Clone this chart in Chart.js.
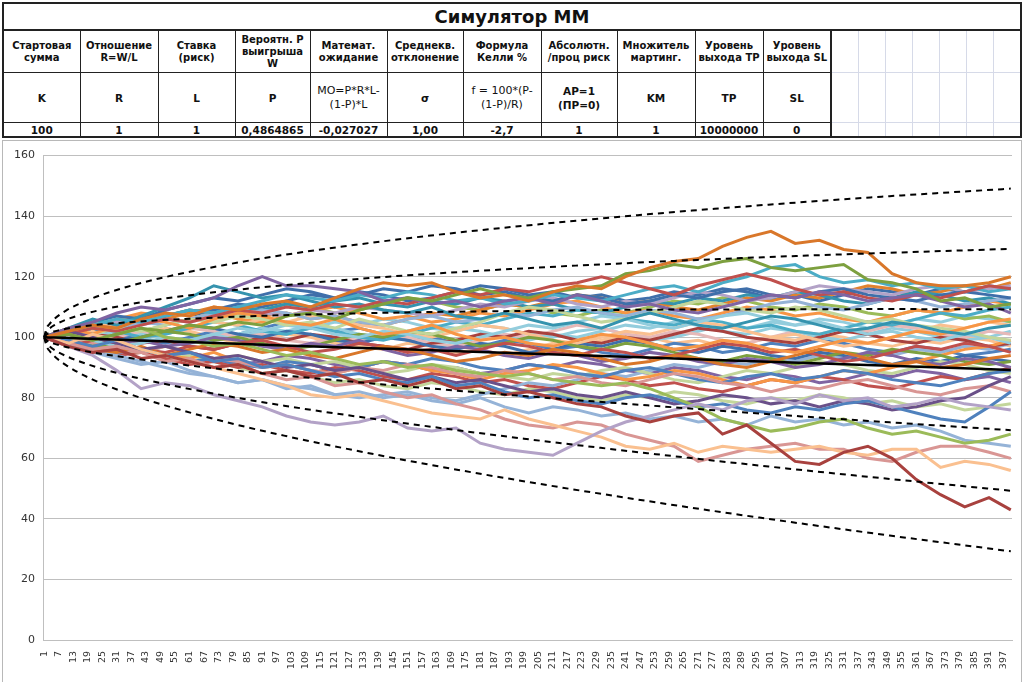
<!DOCTYPE html>
<html>
<head>
<meta charset="utf-8">
<script src="https://cdn.jsdelivr.net/npm/chart.js@4.4.1/dist/chart.umd.min.js"></script>
<style>
  body { margin: 0; width: 1024px; height: 682px; overflow: hidden; background: #fff; font-family: "DejaVu Sans", Verdana, sans-serif; }
  #sheet { position: absolute; left: 2px; top: 2px; }
  table { border-collapse: collapse; table-layout: fixed; border: 2px solid #222; }
  td { border: 1px solid #222; text-align: center; vertical-align: middle; padding: 0; color: #111; overflow: hidden; }
  tr.title td { height: 25px; font-size: 18px; font-weight: bold; border-bottom: 2px solid #222; }
  tr.hdr td { height: 41px; font-size: 10px; font-weight: bold; line-height: 12px; }
  tr.sym td { height: 49px; font-size: 10.5px; font-weight: bold; line-height: 14px; }
  tr.sym td.f { font-weight: normal; font-size: 11px; }
  tr.val td { height: 13px; font-size: 10.5px; font-weight: bold; line-height: 12px; }
  td.e { border: 1px solid #D6DAE8; }
  td.e1 { border-left: 2px solid #222; }
  tr.val td.e { border-bottom: 2px solid #222; }
  #chartBox { position: absolute; left: 2px; top: 140px; width: 1018px; height: 542px; border: 1px solid #B8B8B8; border-bottom: none; }
</style>
</head>
<body>
<div id="sheet">
<table>
  <colgroup>
    <col style="width:77px"><col style="width:78px"><col style="width:77px"><col style="width:75px">
    <col style="width:77px"><col style="width:76px"><col style="width:78px"><col style="width:76px">
    <col style="width:78px"><col style="width:68px"><col style="width:68px">
    <col style="width:27px"><col style="width:27px"><col style="width:27px"><col style="width:27px">
    <col style="width:27px"><col style="width:27px"><col style="width:28px">
  </colgroup>
  <tr class="title"><td colspan="18">Симулятор ММ</td></tr>
  <tr class="hdr">
    <td>Стартовая<br>сумма</td><td>Отношение<br>R=W/L</td><td>Ставка<br>(риск)</td><td>Вероятн. P<br>выигрыша<br>W</td>
    <td>Математ.<br>ожидание</td><td>Среднекв.<br>отклонение</td><td>Формула<br>Келли %</td><td>Абсолютн.<br>/проц риск</td>
    <td>Множитель<br>мартинг.</td><td>Уровень<br>выхода TP</td><td>Уровень<br>выхода SL</td>
    <td class="e e1"></td><td class="e"></td><td class="e"></td><td class="e"></td><td class="e"></td><td class="e"></td><td class="e"></td>
  </tr>
  <tr class="sym">
    <td>K</td><td>R</td><td>L</td><td>P</td><td class="f">MO=P*R*L-<br>(1-P)*L</td><td>σ</td>
    <td class="f">f = 100*(P-<br>(1-P)/R)</td><td>AP=1<br>(ПР=0)</td><td>KM</td><td>TP</td><td>SL</td>
    <td class="e e1"></td><td class="e"></td><td class="e"></td><td class="e"></td><td class="e"></td><td class="e"></td><td class="e"></td>
  </tr>
  <tr class="val">
    <td>100</td><td>1</td><td>1</td><td>0,4864865</td><td>-0,027027</td><td>1,00</td>
    <td>-2,7</td><td>1</td><td>1</td><td>10000000</td><td>0</td>
    <td class="e e1"></td><td class="e"></td><td class="e"></td><td class="e"></td><td class="e"></td><td class="e"></td><td class="e"></td>
  </tr>
</table>
</div>
<div id="chartBox"><canvas id="mm"></canvas></div>
<script>
const sampleX = [1, 11, 21, 31, 41, 51, 61, 71, 81, 91, 101, 111, 121, 131, 141, 151, 161, 171, 181, 191,
  201, 211, 221, 231, 241, 251, 261, 271, 281, 291, 301, 311, 321, 331, 341, 351, 361, 371, 381, 391, 400];

// simulated balance paths
const w01 = [100,102,104,103,106,108,107,110,109,111,112,110,113,116,118,117,118,115,113,114,112,115,117,116,120,123,125,126,130,133,135,131,132,129,128,121,118,117,117,118,120];
const w02 = [100,97,95,96,93,94,92,90,91,88,89,87,88,85,86,84,86,83,84,81,82,80,78,77,74,72,74,75,68,71,65,59,58,62,64,60,53,48,44,47,43];
const w03 = [100,101,99,101,103,102,104,103,105,104,107,108,106,109,111,113,112,114,116,114,113,115,116,117,121,122,124,123,125,126,123,122,123,124,119,118,116,112,113,110,111];
const w04 = [100,103,105,108,110,109,111,113,117,120,117,117,116,115,112,113,111,112,110,112,113,111,114,112,110,111,109,108,110,112,114,113,115,114,112,113,114,112,110,111,108];
const w05 = [100,97,94,89,83,85,84,81,79,77,74,72,71,72,74,70,69,70,65,63,62,61,65,69,72,74,76,78,76,79,80,78,81,79,80,77,78,80,78,77,76];
const w06 = [100,98,101,99,96,94,92,90,88,86,84,81,80,81,79,77,75,74,73,76,73,71,69,67,64,63,65,62,64,63,62,63,64,62,61,63,63,57,59,58,56];
const w07 = [100,98,96,97,95,92,93,90,91,88,86,87,84,85,82,80,81,78,76,73,71,70,72,71,68,66,64,59,61,63,64,65,63,63,60,59,62,64,64,62,60];
const w08 = [100,101,99,101,103,100,99,97,98,96,94,95,93,91,92,90,91,89,88,87,88,86,85,84,85,83,80,77,73,71,69,70,72,73,70,68,69,67,65,66,68];
const w09 = [100,98,95,93,91,92,89,87,85,86,83,84,81,82,80,81,79,78,80,77,75,77,76,74,75,73,74,72,73,71,74,72,73,71,72,70,71,69,66,65,64];
const w10 = [100,99,97,99,96,94,95,92,93,90,91,89,87,88,86,85,87,84,85,82,80,81,79,78,80,81,79,77,78,76,75,77,76,78,79,77,75,73,72,77,82];
const w11 = [100,102,100,98,96,97,95,93,94,92,90,91,89,90,88,86,87,85,86,84,82,83,81,80,82,80,78,79,81,80,78,79,77,79,78,76,77,79,80,84,87];
const w12 = [100,101,103,102,104,106,105,107,109,108,110,109,111,110,112,111,113,115,114,116,115,117,118,120,118,116,114,117,119,121,119,116,114,115,113,112,114,113,115,117,116];
const w13 = [100,102,104,106,105,107,109,108,110,112,114,113,112,114,113,115,114,112,113,111,112,114,113,112,114,116,117,115,118,120,123,124,120,118,119,117,118,116,117,115,116];
const w14 = [100,103,106,104,107,110,113,117,115,113,114,112,110,111,109,108,110,107,106,108,106,104,105,103,106,108,106,104,103,105,107,106,104,102,103,105,104,102,101,103,104];
const w15 = [100,102,105,107,106,109,111,113,112,114,116,115,113,114,116,115,117,116,114,115,113,112,114,113,111,112,114,113,115,116,114,113,115,116,114,113,112,114,115,114,113];
const w16 = [100,103,101,104,106,105,103,106,108,107,105,104,106,103,101,102,104,101,99,100,98,97,99,101,100,98,96,97,99,98,96,95,97,99,98,100,102,101,103,105,106];
const w17 = [100,99,101,103,102,104,106,105,107,106,104,105,103,106,104,102,101,103,105,108,110,109,107,105,106,108,110,112,111,109,108,110,109,107,105,106,104,103,102,100,99];
const w18 = [100,101,99,97,98,100,99,101,103,102,104,103,101,100,102,101,99,98,100,102,104,103,105,107,106,104,103,105,107,108,106,104,105,103,101,102,100,99,101,100,98];
const w19 = [100,98,96,95,97,94,96,98,97,95,96,94,93,95,97,96,94,92,93,95,94,96,95,93,91,92,94,93,91,90,92,94,96,95,93,91,92,90,91,93,94];
const w20 = [100,97,99,98,96,95,97,96,98,99,97,95,96,98,97,95,96,94,96,98,97,95,94,96,95,93,94,96,98,97,95,96,94,92,93,95,97,96,98,97,95];
const w21 = [100,101,100,98,99,97,98,100,99,97,96,98,97,99,96,94,95,97,96,94,93,95,94,92,93,95,94,92,91,93,92,90,91,93,95,94,92,91,93,92,90];
const w22 = [100,102,101,103,105,104,106,108,107,109,108,106,107,105,104,106,107,105,106,108,107,109,110,108,107,109,108,106,107,109,111,112,110,109,111,113,112,110,111,112,113];
const w23 = [100,99,97,98,100,102,101,99,100,98,96,97,99,101,100,102,101,99,97,98,100,99,97,96,98,97,95,93,92,94,93,91,93,95,94,96,95,94,92,91,92];
const w24 = [100,103,105,104,106,108,107,105,104,106,105,107,106,104,103,101,100,102,104,103,101,99,98,100,102,101,103,105,104,102,100,101,99,97,98,100,102,104,103,105,104];
const w25 = [100,99,98,96,95,97,95,93,92,90,91,89,88,90,89,91,90,88,87,89,88,86,87,85,84,86,88,87,85,84,82,84,83,85,86,84,82,81,83,84,82];
const w26 = [100,101,103,102,100,101,103,105,104,102,101,103,102,100,99,101,103,105,104,106,108,107,109,108,106,105,104,106,105,103,104,102,101,103,105,104,106,108,107,109,110];
const w27 = [100,101,103,105,104,106,105,107,109,108,107,109,108,110,109,108,107,109,111,110,112,113,111,110,112,111,113,115,114,112,113,115,117,116,115,114,116,117,115,116,117];
const w28 = [100,98,97,95,96,94,92,93,91,90,92,91,89,90,92,91,93,92,90,89,91,90,88,87,89,90,88,86,85,87,88,86,87,89,88,86,85,84,86,88,89];
const w29 = [100,98,97,99,96,94,93,95,92,90,91,89,88,90,92,91,89,88,86,88,89,91,90,88,86,87,89,88,86,84,86,85,87,89,88,90,92,94,96,97,99];
const w30 = [100,97,99,96,95,97,95,93,94,92,93,91,92,90,88,89,91,90,88,87,86,88,87,89,90,88,86,85,87,89,88,90,92,91,89,88,90,92,91,89,88];
const w31 = [100,102,101,99,100,102,104,103,101,100,102,101,99,98,100,99,97,96,98,97,95,96,98,97,99,98,96,95,97,96,94,93,95,94,92,91,93,92,94,93,92];
const w32 = [100,99,101,100,98,99,97,96,98,100,99,101,100,98,97,96,98,99,101,100,102,101,99,98,100,99,101,103,102,100,99,98,100,102,101,99,98,100,99,97,98];
const w33 = [100,102,104,103,105,107,109,108,110,109,111,110,112,113,111,110,112,111,113,112,110,111,109,108,110,112,111,113,112,114,113,115,114,112,111,113,115,114,112,113,111];
const w34 = [100,101,103,105,107,106,108,110,109,107,108,106,107,105,104,106,108,107,109,111,110,112,114,113,111,112,110,109,111,113,112,114,113,115,117,116,114,115,117,116,118];
const w35 = [100,101,99,100,102,101,103,102,100,101,99,98,100,99,101,100,98,97,99,101,100,102,104,103,101,100,102,101,99,98,100,102,101,103,102,104,103,101,100,102,101];
const w36 = [100,99,100,102,101,100,98,99,101,103,102,104,103,101,100,102,104,103,102,100,99,101,100,102,104,103,105,104,102,101,103,102,100,99,101,103,102,100,99,100,102];
const w37 = [100,98,96,94,92,90,88,87,85,86,84,83,81,80,81,82,80,79,81,83,85,84,86,88,87,89,91,90,92,91,93,92,94,93,95,94,96,95,97,96,98];
const w38 = [100,101,103,101,99,98,100,102,101,103,105,104,102,103,101,99,100,98,97,99,98,96,97,95,94,96,98,97,95,96,98,97,99,98,96,95,97,96,94,95,96];
const w39 = [100,102,104,106,108,107,109,108,106,105,107,109,110,108,106,107,105,106,108,107,109,111,112,110,108,109,107,106,108,110,109,107,108,106,105,107,109,108,110,112,111];
const w40 = [100,98,96,94,95,93,91,92,90,91,89,88,90,89,87,86,88,87,85,86,84,83,85,87,86,84,85,83,82,84,86,85,87,86,84,83,85,87,86,88,90];
const w41 = [100,101,103,104,102,104,106,108,107,109,111,110,108,109,111,113,112,110,109,111,110,108,107,109,108,110,112,111,113,112,110,109,111,110,108,107,109,108,106,107,105];
const w42 = [100,99,97,95,96,94,95,93,91,92,94,93,91,90,92,91,89,90,88,89,91,90,92,91,89,88,90,89,87,86,88,87,85,86,88,87,89,88,86,87,85];
const w43 = [100,102,101,99,100,98,99,101,100,102,101,103,105,104,106,105,103,102,104,103,101,100,102,103,101,99,100,102,104,103,105,104,106,105,103,104,106,105,107,106,105];
const w44 = [100,101,102,100,101,103,102,100,98,99,101,100,98,97,96,98,97,95,96,94,96,98,97,99,101,100,98,99,97,98,100,99,101,100,98,97,99,98,100,99,97];
const w45 = [100,103,102,104,106,108,107,109,111,110,112,114,113,115,114,112,113,115,117,116,114,115,113,114,112,113,115,114,116,115,113,114,112,114,116,115,114,116,115,117,116];
const w46 = [100,98,99,97,95,93,94,92,90,88,89,87,85,86,84,83,85,84,82,81,83,82,80,79,81,80,82,81,79,78,80,79,81,80,78,79,77,78,76,77,78];

// expected value and 1/2/3 sigma envelopes, read at these steps
const bandX = [1, 2, 3, 5, 10, 20, 35, 50, 75, 100, 150, 200, 250, 300, 350, 400];
const meanLine = [100,100,99.9,99.9,99.8,99.5,99.1,98.7,98.0,97.3,96.0,94.6,93.3,91.9,90.6,89.2];
const up1 = [100,101,101.4,101.9,102.8,103.9,104.9,105.7,106.6,107.3,108.2,108.7,109.1,109.2,109.3,109.2];
const up2 = [100,102,102.8,103.9,105.8,108.2,110.7,112.7,115.2,117.2,120.4,122.8,124.8,126.5,127.9,129.2];
const up3 = [100,103,104.2,105.9,108.8,112.6,116.6,119.7,123.8,127.2,132.6,136.9,140.6,143.8,146.6,149.1];
const lo1 = [100,99,98.5,97.9,96.8,95.1,93.3,91.7,89.4,87.4,83.8,80.5,77.5,74.6,71.9,69.3];
const lo2 = [100,98,97.1,95.9,93.8,90.8,87.4,84.7,80.8,77.4,71.6,66.4,61.7,57.3,53.2,49.3];
const lo3 = [100,97,95.7,93.9,90.8,86.4,81.6,77.7,72.2,67.5,59.4,52.3,45.9,40.0,34.5,29.3];

const walks = [w01, w02, w03, w04, w05, w06, w07, w08, w09, w10, w11, w12, w13, w14, w15, w16, w17, w18,
  w19, w20, w21, w22, w23, w24, w25, w26, w27, w28, w29, w30, w31, w32, w33, w34, w35, w36,
  w37, w38, w39, w40, w41, w42, w43, w44, w45, w46];
const walkColors = ['#D9772A', '#A8413E', '#7DA03F', '#8064A2', '#B3A2C7', '#FAC090', '#D99694', '#9BBB59', '#95B3D7',
  '#4F81BD', '#6A5089', '#C0504D', '#4BACC6', '#3593AE', '#3F6FAA', '#F79646', '#C3D69B', '#93CDDD',
  '#D9772A', '#C0504D', '#8064A2', '#95B3D7', '#7DA03F', '#FAC090', '#D99694', '#4BACC6', '#B3A2C7',
  '#4F81BD', '#F79646', '#C3D69B', '#3F6FAA', '#A8413E', '#3593AE', '#E0822F', '#E6B9B8', '#93CDDD',
  '#95B3D7', '#4F81BD', '#F79646', '#C0504D', '#9BBB59', '#8064A2', '#93CDDD', '#FAC090', '#3F6FAA', '#C3D69B'];

// category labels 1..400 (only every 6th one is shown)
const stepLabels = [];
for (let i = 1; i <= 400; i++) stepLabels.push(String(i));

function toPoints(xs, ys) {
  return xs.map((x, i) => ({ x: String(x), y: ys[i] }));
}

function bandSet(values, dashed) {
  return {
    data: toPoints(bandX, values),
    borderColor: '#000',
    borderWidth: dashed ? 2 : 2.5,
    borderDash: dashed ? [6, 5] : [],
    pointRadius: 0,
    cubicInterpolationMode: 'monotone',
    order: -1
  };
}

const datasets = [
  bandSet(meanLine, false),
  bandSet(up1, true), bandSet(up2, true), bandSet(up3, true),
  bandSet(lo1, true), bandSet(lo2, true), bandSet(lo3, true)
];
walks.forEach((w, i) => {
  datasets.push({
    data: toPoints(sampleX, w),
    borderColor: walkColors[i],
    borderWidth: 3,
    pointRadius: 0,
    tension: 0
  });
});

new Chart(document.getElementById('mm').getContext('2d'), {
  type: 'line',
  data: { labels: stepLabels, datasets: datasets },
  options: {
    responsive: true,
    maintainAspectRatio: false,
    animation: false,
    layout: { padding: { top: 9, right: 9, left: 0, bottom: 0 } },
    plugins: { legend: { display: false }, tooltip: { enabled: false } },
    scales: {
      x: {
        offset: true,
        grid: { display: false },
        border: { display: true, color: '#BFBFBF' },
        ticks: { autoSkip: false, minRotation: 90, maxRotation: 90, padding: 3, color: '#333', font: { size: 9.5, family: 'DejaVu Sans' } },
        afterBuildTicks: (s) => { s.ticks = s.ticks.filter(t => t.value % 6 === 0); },
        afterFit: (s) => { s.height = 43; }
      },
      y: {
        min: 0, max: 160,
        grid: { color: '#BFBFBF', drawTicks: false },
        border: { display: true, color: '#BFBFBF' },
        ticks: { stepSize: 20, padding: 8, color: '#333', font: { size: 11, family: 'DejaVu Sans' } },
        afterFit: (s) => { s.width = 40; }
      }
    }
  }
});
</script>
</body>
</html>
